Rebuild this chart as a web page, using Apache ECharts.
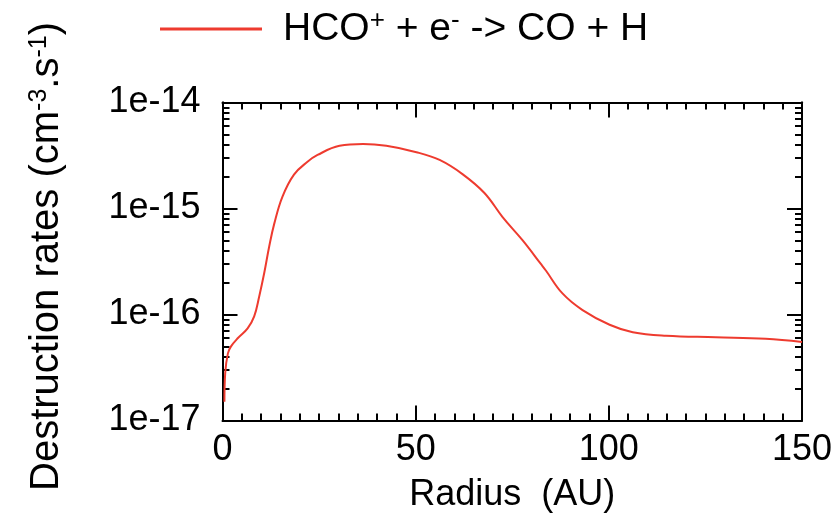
<!DOCTYPE html>
<html>
<head>
<meta charset="utf-8">
<script src="https://cdn.jsdelivr.net/npm/echarts@6/dist/echarts.min.js"></script>
<style>
  html, body { margin: 0; padding: 0; background: #fff; }
  #chart { width: 836px; height: 522px; }
</style>
</head>
<body>
<div id="chart"></div>
<script>
// Radius (AU)
const radius = [0.5, 0.7, 1.4, 2.2, 4.0, 6.5, 8.2, 9.5, 10.8, 12.1, 13.4, 15.5, 18.5, 22, 24.6, 30.3, 36.4, 42.4, 50.2, 56.2, 62.2, 67.8, 72.5, 77.7, 82.4, 83.7, 88, 93.2, 100.2, 106.2, 114.8, 127.7, 140.6, 150];
// Destruction rate (cm^-3 s^-1)
const rate = [1.5e-17, 2.8e-17, 4.3e-17, 5.0e-17, 6.0e-17, 7.4e-17, 9.6e-17, 1.48e-16, 2.46e-16, 4.4e-16, 7.2e-16, 1.29e-15, 2.09e-15, 2.76e-15, 3.2e-15, 3.9e-15, 4.06e-15, 3.9e-15, 3.4e-15, 2.87e-15, 2.1e-15, 1.4e-15, 8.3e-16, 5.0e-16, 3.0e-16, 2.6e-16, 1.58e-16, 1.1e-16, 8.0e-17, 6.8e-17, 6.3e-17, 6.1e-17, 5.9e-17, 5.5e-17];
const yMajor = [1e-17, 1e-16, 1e-15, 1e-14];
const yMinor = [2e-17,3e-17,4e-17,5e-17,6e-17,7e-17,8e-17,9e-17,
                2e-16,3e-16,4e-16,5e-16,6e-16,7e-16,8e-16,9e-16,
                2e-15,3e-15,4e-15,5e-15,6e-15,7e-15,8e-15,9e-15];
const seriesName = 'HCO+ + e- -> CO + H';

const FONT = 'Liberation Sans';
const black = '#000';
const red = '#ee3b2f';
const chart = echarts.init(document.getElementById('chart'));

function xAx(pos, labels) {
  return {
    type: 'value', position: pos, min: 0, max: 150, interval: 50,
    axisLine: { show: true, onZero: false, lineStyle: { color: black, width: 2 } },
    axisTick: { show: true, inside: true, length: 15, lineStyle: { color: black, width: 2 } },
    minorTick: { show: true, splitNumber: 10, length: 7, lineStyle: { color: black, width: 2 } },
    splitLine: { show: false },
    axisLabel: { show: labels, fontSize: 36, fontFamily: FONT, color: black, margin: 12 },
    name: labels ? 'Radius  (AU)' : '',
    nameLocation: 'middle', nameGap: 57,
    nameTextStyle: { fontSize: 36, fontFamily: FONT, color: black }
  };
}
function yAx(pos, major, labels) {
  const ax = {
    type: 'log', logBase: 10, position: pos, min: 1e-17, max: 1e-14,
    axisLine: { show: true, onZero: false, lineStyle: { color: black, width: 2 } },
    axisTick: { show: true, inside: true, length: major ? 15 : 7,
      customValues: major ? yMajor : yMinor,
      lineStyle: { color: black, width: 2 } },
    splitLine: { show: false },
    axisLabel: { show: labels, fontSize: 36, fontFamily: FONT, color: black, margin: 22,
      customValues: yMajor,
      formatter: v => '1e' + Math.round(Math.log10(v)) }
  };
  if (labels) {
    ax.name = 'Destruction rates (cm{s|-3}.s{s|-1})';
    ax.nameLocation = 'middle';
    ax.nameGap = 156;
    ax.nameTextStyle = { fontSize: 40, fontFamily: FONT, color: black, padding: [0, 0, 0, 10],
      rich: { s: { fontSize: 25, fontFamily: FONT, color: black, verticalAlign: 'top', lineHeight: 40 } } };
  }
  return ax;
}

chart.setOption({
  backgroundColor: '#fff',
  animation: false,
  grid: { left: 222.5, right: 34, top: 102.5, bottom: 101.5, containLabel: false },
  legend: {
    left: 155, top: 3, itemWidth: 102, itemHeight: 3,
    data: [{ name: seriesName, icon: 'rect' }],
    itemStyle: { color: red },
    formatter: () => '{n|HCO}{s|+}{n| + e}{s|-}{n| -> CO + H}',
    textStyle: { fontSize: 39, fontFamily: FONT, color: black, padding: [0, 0, 0, 16],
      rich: {
        n: { fontSize: 39, fontFamily: FONT, color: black, lineHeight: 42 },
        s: { fontSize: 26, fontFamily: FONT, color: black, verticalAlign: 'top', lineHeight: 42 }
      } }
  },
  xAxis: [xAx('bottom', true), xAx('top', false)],
  yAxis: [yAx('left', true, true), yAx('left', false, false), yAx('right', true, false), yAx('right', false, false)],
  series: [{
    name: seriesName, type: 'line', xAxisIndex: 0, yAxisIndex: 0,
    data: radius.map((r, i) => [r, rate[i]]),
    symbol: 'none', smooth: 0.4,
    lineStyle: { color: red, width: 2 },
    itemStyle: { color: red }
  }]
});
</script>
</body>
</html>
